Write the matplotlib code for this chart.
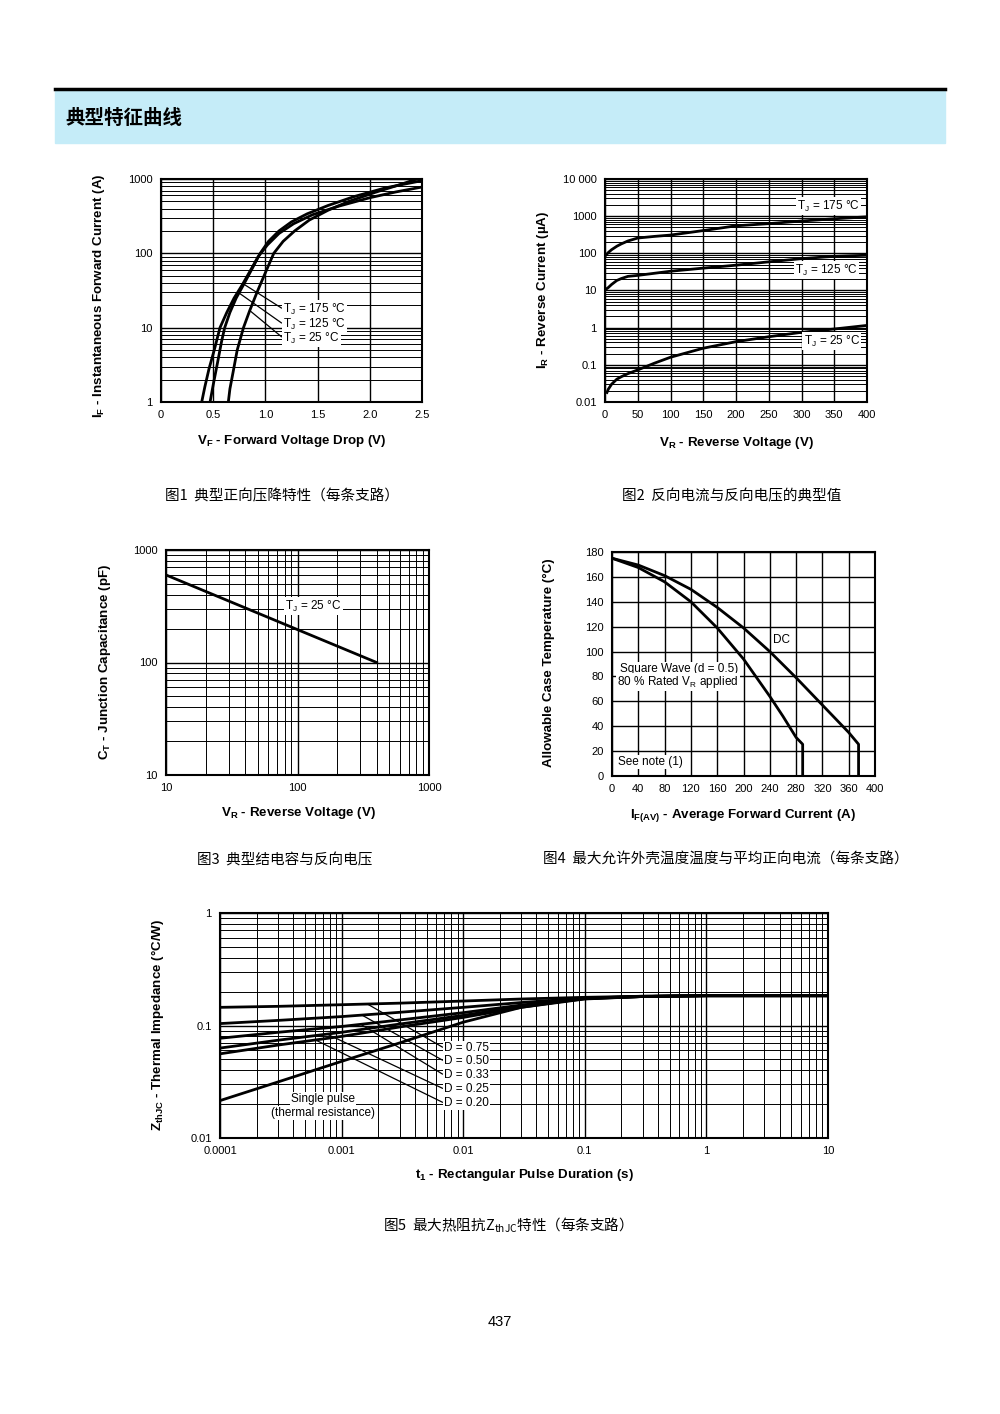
import numpy as np
import matplotlib
matplotlib.use("Agg")
import matplotlib.pyplot as plt
from matplotlib.ticker import FixedLocator, LogLocator, NullFormatter

# ---- data ----
# fig1: forward characteristics
vf_175 = [0.39, 0.42, 0.46, 0.51, 0.565, 0.63, 0.70, 0.78, 0.86, 0.93, 1.02, 1.13, 1.27,
          1.45, 1.7, 2.0, 2.25, 2.5]
if_175 = [1, 1.6, 2.8, 5, 10, 16, 25, 38, 60, 90, 130, 185, 250, 330, 430, 560, 670, 780]
vf_125 = [0.47, 0.5, 0.54, 0.58, 0.61, 0.66, 0.72, 0.8, 0.88, 0.95, 1.03, 1.13, 1.25,
          1.4, 1.6, 1.85, 2.15, 2.5]
if_125 = [1, 1.7, 3.3, 6.5, 10, 16, 25, 40, 65, 100, 145, 200, 265, 340, 440, 580, 760, 950]
vf_25 = [0.645, 0.66, 0.69, 0.73, 0.79, 0.85, 0.92, 1.0, 1.08, 1.17, 1.28, 1.42, 1.6,
         1.8, 2.05, 2.3, 2.45]
if_25 = [1, 1.5, 2.5, 5, 10, 17, 30, 55, 100, 145, 200, 280, 380, 500, 660, 850, 1000]
vf_ticks = [0, 0.5, 1.0, 1.5, 2.0, 2.5]
vf_labels = ['0', '0.5', '1.0', '1.5', '2.0', '2.5']

# fig2: reverse current
vr_pts = [2, 5, 10, 18, 25, 35, 50, 75, 100, 150, 200, 250, 300, 350, 400]
ir_175 = [91, 105, 125, 155, 180, 215, 258, 285, 310, 410, 550, 630, 740, 850, 960]
ir_125 = [11, 12, 14.5, 18.6, 21, 24, 25.5, 29, 33, 40, 48, 59, 72, 83, 89]
vr_25 = [3, 5, 10, 18, 25, 35, 50, 75, 100, 150, 200, 250, 300, 350, 400]
ir_25 = [0.018, 0.022, 0.030, 0.041, 0.048, 0.058, 0.073, 0.11, 0.16, 0.28, 0.42, 0.57,
         0.75, 0.92, 1.15]
ir_ticks = [0.01, 0.1, 1, 10, 100, 1000, 10000]
ir_labels = ['0.01', '0.1', '1', '10', '100', '1000', '10 000']

# fig3: junction capacitance
vr_cap = [10, 400]
ct_cap = [600, 100]

# fig4: case temperature derating
i_dc = [0, 40, 80, 120, 160, 200, 240, 280, 320, 360, 375, 375]
t_dc = [175, 169.5, 161, 150, 135.5, 119, 100, 79, 57, 35, 25.5, 0]
i_sq = [0, 40, 80, 120, 160, 200, 240, 260, 280, 290, 290]
t_sq = [175, 167.5, 156, 140, 119, 94, 64, 48, 31, 25.5, 0]

# fig5: thermal impedance
t_p = [1e-4, 3e-4, 1e-3, 3e-3, 1e-2, 3e-2, 0.1, 0.3, 1, 10]
z_075 = [0.145, 0.148, 0.153, 0.158, 0.165, 0.172, 0.178, 0.182, 0.184, 0.184]
z_050 = [0.104, 0.111, 0.12, 0.131, 0.145, 0.16, 0.175, 0.181, 0.184, 0.184]
z_033 = [0.077, 0.087, 0.098, 0.112, 0.13, 0.152, 0.174, 0.181, 0.184, 0.184]
z_025 = [0.063, 0.074, 0.087, 0.103, 0.123, 0.148, 0.173, 0.181, 0.184, 0.184]
z_020 = [0.056, 0.067, 0.08, 0.097, 0.118, 0.145, 0.172, 0.181, 0.184, 0.184]
z_single = [0.0215, 0.0315, 0.048, 0.07, 0.107, 0.145, 0.175, 0.182, 0.184, 0.184]
d_labels = ['D = 0.75', 'D = 0.50', 'D = 0.33', 'D = 0.25', 'D = 0.20']
d_curves = [z_075, z_050, z_033, z_025, z_020]
d_lead_t = [1.63e-3, 1.47e-3, 1.44e-3, 7.6e-4, 6.1e-4]

plt.rcParams['font.family'] = ['Liberation Sans', 'Noto Sans CJK SC']
plt.rcParams['mathtext.fontset'] = 'custom'
plt.rcParams['mathtext.rm'] = 'Liberation Sans'
plt.rcParams['mathtext.bf'] = 'Liberation Sans:bold'
plt.rcParams['mathtext.it'] = 'Liberation Sans:italic'
cjk = ['Noto Sans CJK SC', 'DejaVu Sans']

W, H = 1000, 1414
fig = plt.figure(figsize=(W / 100, H / 100), dpi=100)


def rect(l, t, r, b):
    return [l / W, 1 - b / H, (r - l) / W, (b - t) / H]


def pos(x, y):
    return (x / W, 1 - y / H)


def style(ax):
    for s in ax.spines.values():
        s.set_linewidth(1.5)
    ax.tick_params(which='both', length=0, labelsize=8, pad=6)
    ax.grid(which='major', color='black', lw=1.0)
    ax.grid(which='minor', color='black', lw=0.7)
    ax.set_axisbelow(True)


def logy(ax, ticks, labels):
    ax.set_yscale('log')
    ax.yaxis.set_major_locator(FixedLocator(ticks))
    ax.yaxis.set_minor_locator(LogLocator(10, subs=np.arange(2, 10), numticks=100))
    ax.yaxis.set_minor_formatter(NullFormatter())
    ax.set_yticklabels(labels)


def logx(ax, ticks, labels):
    ax.set_xscale('log')
    ax.xaxis.set_major_locator(FixedLocator(ticks))
    ax.xaxis.set_minor_locator(LogLocator(10, subs=np.arange(2, 10), numticks=100))
    ax.xaxis.set_minor_formatter(NullFormatter())
    ax.set_xticklabels(labels)


def on_curve(x, xs, ys):
    return 10 ** np.interp(np.log10(x), np.log10(xs), np.log10(ys))


LW = 2.0
lbl = dict(fontsize=8.5, va='center', bbox=dict(fc='white', ec='none', pad=1.0))
lead = dict(arrowstyle='-', lw=0.9, color='black', shrinkA=0, shrinkB=0, relpos=(0, 0.5))

# header
fig.add_artist(plt.Rectangle(pos(55, 143), 890 / W, 53 / H, color='#c5ecf8',
                             transform=fig.transFigure))
fig.add_artist(plt.Line2D([55 / W, 945 / W], [1 - 88.5 / H] * 2, color='black', lw=2.5))
fig.text(*pos(65, 118), '典型特征曲线', fontsize=14, fontweight='bold', va='center', family=cjk)

# ---- fig1 ----
ax1 = fig.add_axes(rect(161, 179, 422, 402))
style(ax1)
logy(ax1, [1, 10, 100, 1000], ['1', '10', '100', '1000'])
ax1.set_xlim(0, 2.5)
ax1.set_ylim(1, 1000)
ax1.set_xticks(vf_ticks)
ax1.set_xticklabels(vf_labels)
for v, i in [(vf_175, if_175), (vf_125, if_125), (vf_25, if_25)]:
    ax1.plot(v, i, color='black', lw=LW, solid_joinstyle='round')
for txt, v0, vs, ii, ty in [('T$_\\mathregular{J}$ = 175 °C', 0.785, vf_175, if_175, 309),
                            ('T$_\\mathregular{J}$ = 125 °C', 0.747, vf_125, if_125, 324),
                            ('T$_\\mathregular{J}$ = 25 °C', 0.85, vf_25, if_25, 338)]:
    i0 = 10 ** np.interp(v0, vs, np.log10(ii))
    ax1.annotate(txt, xy=(v0, i0), xytext=pos(283, ty), textcoords='figure fraction',
                 ha='left', arrowprops=lead, **lbl)

# ---- fig2 ----
ax2 = fig.add_axes(rect(605, 179, 867, 402))
style(ax2)
logy(ax2, ir_ticks, ir_labels)
ax2.set_xlim(0, 400)
ax2.set_ylim(0.01, 10000)
ax2.set_xticks(range(0, 401, 50))
for v, i in [(vr_pts, ir_175), (vr_pts, ir_125), (vr_25, ir_25)]:
    ax2.plot(v, i, color='black', lw=LW, solid_joinstyle='round')
fig.text(*pos(860, 206), 'T$_\\mathregular{J}$ = 175 °C', ha='right', **lbl)
fig.text(*pos(858, 270), 'T$_\\mathregular{J}$ = 125 °C', ha='right', **lbl)
fig.text(*pos(860, 341), 'T$_\\mathregular{J}$ = 25 °C', ha='right', **lbl)

# ---- fig3 ----
ax3 = fig.add_axes(rect(166, 550, 429, 775))
style(ax3)
logx(ax3, [10, 100, 1000], ['10', '100', '1000'])
logy(ax3, [10, 100, 1000], ['10', '100', '1000'])
ax3.set_xlim(10, 1000)
ax3.set_ylim(10, 1000)
ax3.plot(vr_cap, ct_cap, color='black', lw=LW)
fig.text(*pos(285, 606), 'T$_\\mathregular{J}$ = 25 °C', ha='left', **lbl)

# ---- fig4 ----
ax4 = fig.add_axes(rect(612, 552, 875, 776))
style(ax4)
ax4.set_xlim(0, 400)
ax4.set_ylim(0, 180)
ax4.set_xticks(range(0, 401, 40))
ax4.set_yticks(range(0, 181, 20))
ax4.plot(i_dc, t_dc, color='black', lw=LW, solid_joinstyle='round')
ax4.plot(i_sq, t_sq, color='black', lw=LW, solid_joinstyle='round')
fig.text(*pos(782, 640), 'DC', ha='center', **lbl)
fig.text(*pos(679, 669), 'Square Wave (d = 0.5)', ha='center', **lbl)
fig.text(*pos(678, 682), '80 % Rated V$_\\mathregular{R}$ applied', ha='center', **lbl)
fig.text(*pos(618, 762), 'See note (1)', ha='left', **lbl)

# ---- fig5 ----
ax5 = fig.add_axes(rect(220, 913, 828, 1138))
style(ax5)
logx(ax5, [1e-4, 1e-3, 1e-2, 0.1, 1, 10], ['0.0001', '0.001', '0.01', '0.1', '1', '10'])
logy(ax5, [0.01, 0.1, 1], ['0.01', '0.1', '1'])
ax5.set_xlim(1e-4, 10)
ax5.set_ylim(0.01, 1)
for z in d_curves + [z_single]:
    ax5.plot(t_p, z, color='black', lw=LW, solid_joinstyle='round')
for txt, z, t0, ty in zip(d_labels, d_curves, d_lead_t, [1048, 1061, 1075, 1089, 1103]):
    ax5.annotate(txt, xy=(t0, on_curve(t0, t_p, z)), xytext=pos(444, ty),
                 textcoords='figure fraction', ha='left', arrowprops=lead, **lbl)
fig.text(*pos(323, 1099), 'Single pulse', ha='center', **lbl)
fig.text(*pos(323, 1113), '(thermal resistance)', ha='center', **lbl)

# axis titles
bold = dict(fontsize=9.6, fontweight='bold', ha='center', va='center')
fig.text(*pos(99, 296), 'I$_\\mathbf{F}$ - Instantaneous Forward Current (A)', rotation=90, **bold)
fig.text(*pos(292, 441), 'V$_\\mathbf{F}$ - Forward Voltage Drop (V)', **bold)
fig.text(*pos(543, 290), 'I$_\\mathbf{R}$ - Reverse Current (µA)', rotation=90, **bold)
fig.text(*pos(736, 443), 'V$_\\mathbf{R}$ - Reverse Voltage (V)', **bold)
fig.text(*pos(105, 662), 'C$_\\mathbf{T}$ - Junction Capacitance (pF)', rotation=90, **bold)
fig.text(*pos(298, 813), 'V$_\\mathbf{R}$ - Reverse Voltage (V)', **bold)
fig.text(*pos(549, 663), 'Allowable Case Temperature (°C)', rotation=90, **bold)
fig.text(*pos(743, 815), 'I$_\\mathbf{F(AV)}$ - Average Forward Current (A)', **bold)
fig.text(*pos(157, 1025), 'Z$_\\mathbf{thJC}$ - Thermal Impedance (°C/W)', rotation=90, **bold)
fig.text(*pos(524, 1175), 't$_\\mathbf{1}$ - Rectangular Pulse Duration (s)', **bold)

# captions
cap = dict(fontsize=10.5, ha='center', va='center', family=cjk)
fig.text(*pos(282, 496), '图1  典型正向压降特性（每条支路）', **cap)
fig.text(*pos(732, 496), '图2  反向电流与反向电压的典型值', **cap)
fig.text(*pos(285, 860), '图3  典型结电容与反向电压', **cap)
fig.text(*pos(726, 860), '图4  最大允许外壳温度温度与平均正向电流（每条支路）', **cap)
fig.text(*pos(504, 1225), '图5  最大热阻抗Z$_\\mathregular{thJC}$特性（每条支路）', **cap)
fig.text(*pos(500, 1322), '437', fontsize=10.5, ha='center', va='center')

fig.savefig('out.png', dpi=100)
